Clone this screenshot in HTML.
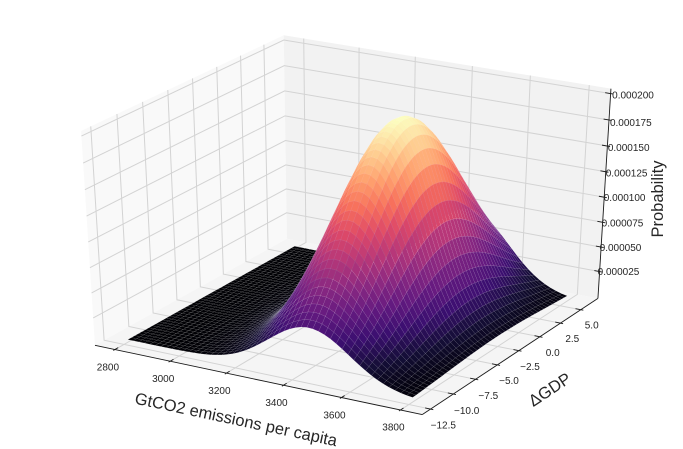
<!DOCTYPE html>
<html>
<head>
<meta charset="utf-8">
<style>
  html,body{margin:0;padding:0;background:#fff;}
  svg{display:block;}
  text{font-family:"Liberation Sans","DejaVu Sans",Arial,sans-serif;}
</style>
</head>
<body>
<svg id="s" width="683" height="449" viewBox="0 0 683 449" xmlns="http://www.w3.org/2000/svg">
  <rect x="0" y="0" width="683" height="449" fill="#ffffff"/>
  <g id="panes"></g>
  <g id="grid" fill="none" stroke="#d3d3d3" stroke-width="1"></g>
  <g id="axes" fill="none" stroke="#1a1a1a" stroke-width="0.9"></g>
  <g id="surf" stroke="rgba(255,255,255,0.16)" stroke-width="0.35"></g>
  <g fill="#262626" font-size="10" text-anchor="middle" dominant-baseline="central">
    <text x="107.9" y="367.9">2800</text>
    <text x="163.2" y="379.6">3000</text>
    <text x="219.4" y="391.5">3200</text>
    <text x="276.5" y="403.5">3400</text>
    <text x="334.5" y="415.8">3600</text>
    <text x="393.4" y="428.2">3800</text>

    <text x="443.3" y="426">−12.5</text>
    <text x="466.7" y="411.7">−10.0</text>
    <text x="488.3" y="396.7">−7.5</text>
    <text x="509" y="381.7">−5.0</text>
    <text x="530" y="367.3">−2.5</text>
    <text x="552.7" y="353.3">0.0</text>
    <text x="572.3" y="339.3">2.5</text>
    <text x="591.7" y="326">5.0</text>

    <text x="633" y="96">0.000200</text>
    <text x="630.8" y="123.3">0.000175</text>
    <text x="628.7" y="148.3">0.000150</text>
    <text x="626.6" y="174">0.000125</text>
    <text x="624.6" y="198.3">0.000100</text>
    <text x="622.5" y="224">0.000075</text>
    <text x="620.5" y="248.3">0.000050</text>
    <text x="618.5" y="272.7">0.000025</text>
  </g>
  <g fill="#262626" font-size="16.5" text-anchor="middle" dominant-baseline="central">
    <text x="236" y="420" transform="rotate(12 236 420)">GtCO2 emissions per capita</text>
    <text x="550" y="390" transform="rotate(-33.5 550 390)">ΔGDP</text>
    <text x="658" y="199" transform="rotate(-90 658 199)">Probability</text>
  </g>
</svg>
<script>
(function(){
  var CX=350.5, CY=218.2, KX=3625.8, KY=2348;
  var C=Math.sqrt(3)/2;
  function P(xn,yn,zn){
    var dx=xn-0.5, dy=yn-0.5, dz=zn-0.5;
    var u=C*dx+0.5*dy;
    var v=-0.25*dx+0.4330127*dy+C*dz;
    var n=0.4330127*dx-0.75*dy+0.5*dz;
    var D=10-n;
    return [CX+KX*u/D, CY-KY*v/D, n];
  }
  var X0=2750, XR=1100, Y0=-13, YR=19.75, Z0=0.0000015, ZR=0.000199;
  function xn(x){return (x-X0)/XR;}
  function yn(y){return (y-Y0)/YR;}
  function zn(z){return (z-Z0)/ZR;}
  var m=1/48, lo=-m, hi=1+m;
  function f(v){return v.toFixed(2);}
  function pl(arr){return arr.map(function(p){return f(p[0])+','+f(p[1]);}).join(' ');}

  var panes='';
  panes+='<polygon fill="#f9f9f9" points="'+pl([P(lo,lo,lo),P(lo,hi,lo),P(lo,hi,hi),P(lo,lo,hi)])+'"/>';
  panes+='<polygon fill="#f2f2f2" points="'+pl([P(lo,hi,lo),P(hi,hi,lo),P(hi,hi,hi),P(lo,hi,hi)])+'"/>';
  panes+='<polygon fill="#f5f5f5" points="'+pl([P(lo,lo,lo),P(hi,lo,lo),P(hi,hi,lo),P(lo,hi,lo)])+'"/>';
  document.getElementById('panes').innerHTML=panes;

  var xt=[2800,3000,3200,3400,3600,3800];
  var yt=[-12.5,-10,-7.5,-5,-2.5,0,2.5,5];
  var zt=[]; for(var k=1;k<=8;k++) zt.push(0.000025*k);
  var g='';
  xt.forEach(function(t){var a=xn(t); g+='<polyline points="'+pl([P(a,lo,lo),P(a,hi,lo),P(a,hi,hi)])+'"/>';});
  yt.forEach(function(t){var a=yn(t); g+='<polyline points="'+pl([P(lo,a,hi),P(lo,a,lo),P(hi,a,lo)])+'"/>';});
  zt.forEach(function(t){var a=zn(t); g+='<polyline points="'+pl([P(hi,hi,a),P(lo,hi,a),P(lo,lo,a)])+'"/>';});
  document.getElementById('grid').innerHTML=g;

  var ax='';
  ax+='<polyline points="'+pl([P(lo,lo,lo),P(hi,lo,lo)])+'"/>';
  ax+='<polyline points="'+pl([P(hi,lo,lo),P(hi,hi,lo)])+'"/>';
  ax+='<polyline points="'+pl([P(hi,hi,lo),P(hi,hi,hi)])+'"/>';
  var o=0.1/12, i2=0.2/12;
  xt.forEach(function(t){var a=xn(t); ax+='<polyline points="'+pl([P(a,lo-o,lo),P(a,lo+i2,lo)])+'"/>';});
  yt.forEach(function(t){var a=yn(t); ax+='<polyline points="'+pl([P(hi+o,a,lo),P(hi-i2,a,lo)])+'"/>';});
  zt.forEach(function(t){var a=zn(t); ax+='<polyline points="'+pl([P(hi+o,hi,a),P(hi-i2,hi,a)])+'"/>';});
  document.getElementById('axes').innerHTML=ax;

  var stops=['000004','140e36','3b0f70','641a80','8c2981','b73779','de4968','f7705c','fe9f6d','fecf92','fcfdbf'].map(function(h){
    return [parseInt(h.substr(0,2),16),parseInt(h.substr(2,2),16),parseInt(h.substr(4,2),16)];});
  function magma(t){
    t=Math.max(0,Math.min(1,t));
    var s=t*10, i=Math.min(9,Math.floor(s)), fr=s-i;
    var a=stops[i], b=stops[i+1];
    return 'rgb('+Math.round(a[0]+(b[0]-a[0])*fr)+','+Math.round(a[1]+(b[1]-a[1])*fr)+','+Math.round(a[2]+(b[2]-a[2])*fr)+')';
  }

  var NS=50;
  var xs0=2800, xs1=3800, ys0=-12.1, ys1=5.85;
  var mux=3445, sgx=140, muy=-2.4, sgy=5.8, A=0.0002005;
  var pts=[];
  for(var j=0;j<=NS;j++){
    var y=ys0+(ys1-ys0)*j/NS;
    for(var i=0;i<=NS;i++){
      var x=xs0+(xs1-xs0)*i/NS;
      var ex=(x-mux)/sgx, ey=(y-muy)/sgy;
      var z=A*Math.exp(-0.5*(ex*ex+ey*ey));
      var p=P(xn(x),yn(y),zn(z));
      pts.push([p[0],p[1],p[2],z]);
    }
  }
  var polys=[], zmin=1e9, zmax=-1e9;
  for(var j=0;j<NS;j++){
    for(var i=0;i<NS;i++){
      var a=j*(NS+1)+i, b=a+1, c=a+NS+2, d=a+NS+1;
      var q=[pts[a],pts[b],pts[c],pts[d]];
      var az=(q[0][3]+q[1][3]+q[2][3]+q[3][3])/4;
      var an=(q[0][2]+q[1][2]+q[2][2]+q[3][2])/4;
      if(az<zmin)zmin=az; if(az>zmax)zmax=az;
      polys.push({q:q,z:az,n:an});
    }
  }
  polys.sort(function(A1,B1){return A1.n-B1.n;});
  var out=[];
  polys.forEach(function(po){
    var col=magma((po.z-zmin)/(zmax-zmin));
    var q=po.q;
    out.push('<path fill="'+col+'" d="M'+f(q[0][0])+' '+f(q[0][1])+'L'+f(q[1][0])+' '+f(q[1][1])+'L'+f(q[2][0])+' '+f(q[2][1])+'L'+f(q[3][0])+' '+f(q[3][1])+'Z"/>');
  });
  document.getElementById('surf').innerHTML=out.join('');
})();
</script>
</body>
</html>
